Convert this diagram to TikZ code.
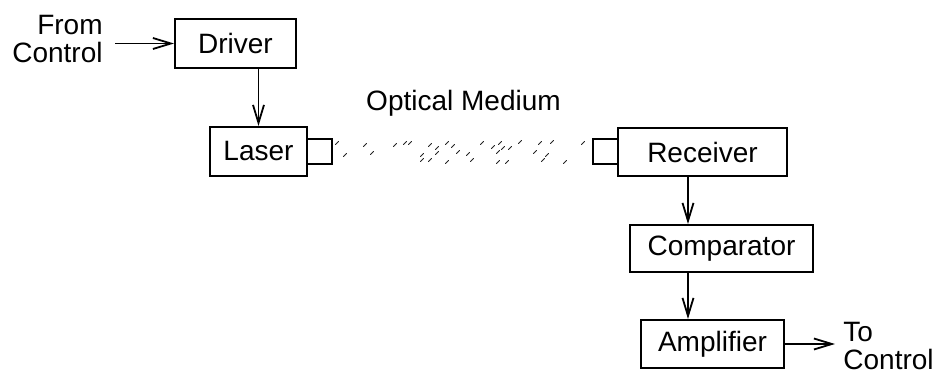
\documentclass[tikz,border=0pt]{standalone}
\usepackage{fontspec}
\setmainfont{Liberation Sans}
\usetikzlibrary{arrows.meta,calc}
\begin{document}
\begin{tikzpicture}[x=0.5pt,y=-0.5pt,
  every node/.style={font=\fontsize{14}{14}\selectfont},
  blk/.style={draw,line width=1pt,inner sep=0pt},
  port/.style={draw,line width=0.9pt,inner sep=0pt,minimum width=12.5pt,minimum height=12.5pt},
  arr/.style={line width=0.9pt,-{Straight Barb[length=9pt,width=5.5pt,line width=0.9pt]}},
  lbl/.style={inner sep=0pt,align=left},
  speck/.style={line width=0.5pt,line cap=round,black!85}]
\useasboundingbox (0,0) rectangle (944,384);
\node[blk,minimum width=60.5pt,minimum height=24.5pt] (drv) at (235.5,43.5) {Driver};
\node[blk,minimum width=48.5pt,minimum height=24.5pt] (las) at (258.5,151.5) {Laser};
\node[blk,minimum width=84.5pt,minimum height=24pt] (rcv) at (702.5,152) {Receiver};
\node[blk,minimum width=91.5pt,minimum height=23.5pt] (cmp) at (721.5,248.5) {Comparator};
\node[blk,minimum width=71.5pt,minimum height=24pt] (amp) at (712.5,344) {Amplifier};
\node[port] (lp) at (319.5,151.5) {};
\node[port] (rp) at (605.5,151.5) {};
\node[lbl,align=right,anchor=east] (from) at (103,39) {From\\Control};
\node[lbl,anchor=west] (to) at (843,346) {To\\Control};
\node[lbl,anchor=base] (om) at (463.5,111) {Optical Medium};
\coordinate (fs) at (115,43.5);
\coordinate (te) at (835,344);
\coordinate (cx) at (688,0);
\draw[arr] (fs) -- (drv.west);
\draw[arr] (drv.south -| las.north) -- (las.north);
\draw[arr] (rcv.south -| cx) -- (cmp.north -| cx);
\draw[arr] (cmp.south -| cx) -- (amp.north -| cx);
\draw[arr] (amp.east) -- (te);
\foreach \x/\y in {337/143,345/155,365/145,372/153,395/145,405/143,410/143,422/155,422/160,
  430/145,437/148,437/153,430/160,447/143,453/146,447/162,458/152,468/154,472/160,482/143,
  493/147,500/143,503/148,498/152,510/148,520/142,498/162,507/162,535/152,540/143,552/142,
  547/155,543/160,565/162,583/143}
  \draw[speck] (\x-1.6,\y+1.6) -- (\x+1.6,\y-1.6);
\end{tikzpicture}
\end{document}
